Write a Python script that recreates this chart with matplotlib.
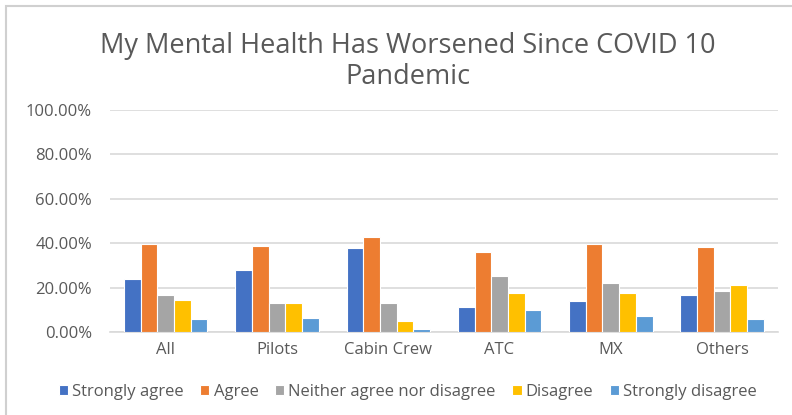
import matplotlib.pyplot as plt
import numpy as np
from matplotlib.patches import Rectangle
from matplotlib.ticker import FuncFormatter

plt.rcParams['font.family'] = ['Open Sans', 'DejaVu Sans']

groups = ['All', 'Pilots', 'Cabin Crew', 'ATC', 'MX', 'Others']
responses = ['Strongly agree', 'Agree', 'Neither agree nor disagree',
             'Disagree', 'Strongly disagree']

strongly_agree = [0.239, 0.278, 0.377, 0.113, 0.140, 0.165]
agree = [0.395, 0.389, 0.426, 0.360, 0.395, 0.381]
neither = [0.165, 0.132, 0.132, 0.252, 0.219, 0.186]
disagree = [0.144, 0.132, 0.048, 0.177, 0.174, 0.210]
strongly_disagree = [0.057, 0.062, 0.015, 0.099, 0.070, 0.057]

series = [strongly_agree, agree, neither, disagree, strongly_disagree]
colors = ['#4472C4', '#ED7D31', '#A5A5A5', '#FFC000', '#5B9BD5']

fig = plt.figure(figsize=(7.92, 4.15), dpi=100)
ax = fig.add_axes([0.139, 0.2, 0.843, 0.535])

x = np.arange(len(groups))
w = 0.15
for i, (vals, c) in enumerate(zip(series, colors)):
    ax.bar(x + (i - 2) * w, vals, width=w, color=c, edgecolor='white',
           linewidth=0.8, label=responses[i], zorder=3)

ax.set_ylim(0, 1.0)
ax.set_xlim(-0.5, len(groups) - 0.5)
ax.set_yticks(np.arange(0, 1.01, 0.2))
ax.yaxis.set_major_formatter(FuncFormatter(lambda v, p: f'{v*100:.2f}%'))
ax.set_xticks(x)
ax.set_xticklabels(groups)
ax.tick_params(axis='both', length=0, colors='#595959', labelsize=12)
ax.tick_params(axis='y', pad=13)
ax.tick_params(axis='x', pad=7)
ax.grid(axis='y', color='#D9D9D9', linewidth=1.2, zorder=0)
for s in ['top', 'right', 'left']:
    ax.spines[s].set_visible(False)
ax.spines['bottom'].set_color('#D9D9D9')
ax.spines['bottom'].set_linewidth(1.2)

fig.text(0.515, 0.852, 'My Mental Health Has Worsened Since COVID 10\nPandemic',
         ha='center', va='center', fontsize=19.5, color='#595959',
         linespacing=1.17)

leg = fig.legend(loc='center', bbox_to_anchor=(0.515, 0.055), ncol=5,
                 frameon=False, fontsize=12, handlelength=0.55,
                 handleheight=0.55, handletextpad=0.25, columnspacing=1.0)
for t in leg.get_texts():
    t.set_color('#595959')

fig.patches.append(Rectangle((0.007, -0.1), 1.1, 1.085,
                             transform=fig.transFigure, fill=False,
                             edgecolor='#D0D0D0', linewidth=1.5))

fig.savefig('out.png', dpi=100)
